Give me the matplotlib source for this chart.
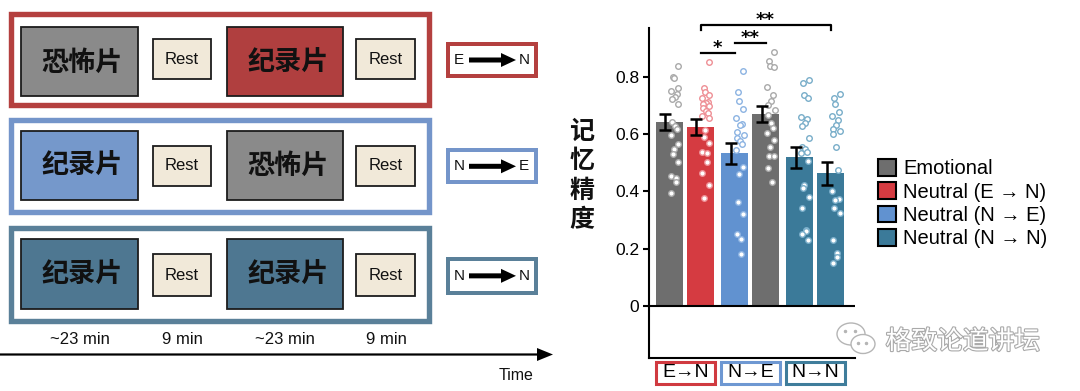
import numpy as np
import matplotlib
matplotlib.use('Agg')
import matplotlib.pyplot as plt
from matplotlib.patches import Rectangle, FancyArrow, Patch, Ellipse
import matplotlib.patheffects as pe

plt.rcParams['font.family'] = ['Liberation Sans', 'Noto Sans CJK SC', 'DejaVu Sans']

# ---------------- data ----------------
conditions = ['Emotional', 'Neutral (E → N)', 'Neutral (N → E)', 'Neutral (N → N)']
condition_colors = ['#6e6e6e', '#d53b41', '#6192d0', '#3b7a99']
dot_edge_colors = ['#a9a9a9', '#ee8f95', '#8cb3e2', '#78adc9']
groups = ['E→N', 'N→E', 'N→N']
group_colors = ['#d03a40', '#6e98d2', '#3f7d9b']
bar_condition = [0, 1, 2, 0, 3, 3]
bar_group = [0, 0, 1, 1, 2, 2]
bar_means = [0.642, 0.626, 0.533, 0.670, 0.519, 0.463]
bar_sems = [0.028, 0.027, 0.038, 0.028, 0.037, 0.041]

dots_emo_en = [0.838, 0.799, 0.797, 0.760, 0.751, 0.740, 0.731, 0.722, 0.707, 0.644, 0.629,
               0.618, 0.597, 0.565, 0.547, 0.532, 0.504, 0.455, 0.446, 0.433, 0.396]
dots_neu_en = [0.851, 0.760, 0.749, 0.737, 0.726, 0.714, 0.708, 0.706, 0.700, 0.691, 0.681,
               0.673, 0.664, 0.656, 0.615, 0.591, 0.568, 0.539, 0.533, 0.504, 0.463, 0.423, 0.376]
dots_neu_ne = [0.821, 0.749, 0.716, 0.688, 0.658, 0.636, 0.634, 0.607, 0.597, 0.586, 0.576,
               0.565, 0.545, 0.487, 0.462, 0.362, 0.321, 0.252, 0.233, 0.181]
dots_emo_ne = [0.889, 0.856, 0.838, 0.836, 0.766, 0.737, 0.717, 0.702, 0.685, 0.667, 0.638,
               0.621, 0.603, 0.580, 0.557, 0.525, 0.523, 0.483, 0.434]
dots_neu_nn1 = [0.790, 0.778, 0.737, 0.726, 0.661, 0.653, 0.638, 0.630, 0.586, 0.557, 0.548,
                0.539, 0.533, 0.507, 0.423, 0.411, 0.382, 0.341, 0.265, 0.262, 0.250, 0.231]
dots_neu_nn2 = [0.739, 0.728, 0.705, 0.679, 0.665, 0.650, 0.632, 0.618, 0.611, 0.600, 0.557,
                0.475, 0.403, 0.374, 0.372, 0.341, 0.324, 0.231, 0.184, 0.172, 0.151]
bar_dots = [dots_emo_en, dots_neu_en, dots_neu_ne, dots_emo_ne, dots_neu_nn1, dots_neu_nn2]

sig_pairs = [(1, 2), (2, 3), (1, 5)]
sig_labels = ['*', '**', '**']
sig_levels = [0.883, 0.918, 0.98]
sig_ticks = [False, False, True]

y_ticks = [0, 0.2, 0.4, 0.6, 0.8]
y_tick_labels = ['0', '0.2', '0.4', '0.6', '0.8']
y_label = '记忆精度'

# left schematic content
film_names = {'E': '恐怖片', 'N': '纪录片'}
sessions = [('E', 'N'), ('N', 'E'), ('N', 'N')]
rest_label = 'Rest'
durations = ['~23 min', '9 min', '~23 min', '9 min']
time_label = 'Time'
watermark = '格致论道讲坛'

# ---------------- figure ----------------
W, H = 1080, 391
fig = plt.figure(figsize=(W / 100, H / 100), dpi=100)
fig.patch.set_facecolor('white')

ov = fig.add_axes([0, 0, 1, 1])
ov.set_xlim(0, W)
ov.set_ylim(H, 0)
ov.axis('off')

PX = 72 / 100  # points per pixel

frame_colors = ['#b4403f', '#7495ca', '#5a8099']
film_fill_N = ['#b03f3f', '#7598cb', '#4e7791']
film_fill_E = '#8a8a8a'
rest_fill = '#f1e9d9'

frame_y = [(11.7, 108), (117.3, 215), (225, 323.3)]
box_y = [(27.3, 95.5), (130.7, 200), (239.3, 309.3)]
rest_y = [(39.3, 79.3), (145.7, 185.7), (254.3, 296)]
tag_y = [(41.7, 78.3), (148.3, 184.3), (256.7, 295)]
frame_x = (7.9, 432)
film_x = [(21.4, 137.5), (226.8, 342.9)]
rest_x = [(152.5, 211.4), (356.4, 415.4)]
tag_x = (446.4, 538.2)

fw = 5.4
for r, (a, b) in enumerate(sessions):
    fy0, fy1 = frame_y[r]
    ov.add_patch(Rectangle((frame_x[0] + fw / 2, fy0 + fw / 2), frame_x[1] - frame_x[0] - fw,
                           fy1 - fy0 - fw, facecolor='white', edgecolor=frame_colors[r],
                           lw=fw * PX))
    for k, f in enumerate((a, b)):
        x0, x1 = film_x[k]
        y0, y1 = box_y[r]
        fill = film_fill_E if f == 'E' else film_fill_N[r]
        ov.add_patch(Rectangle((x0, y0), x1 - x0, y1 - y0, facecolor=fill,
                               edgecolor='#1c1c1c', lw=1.3))
        ov.text((x0 + x1) / 2 + 3, (y0 + y1) / 2 + 1, film_names[f], ha='center', va='center',
                fontsize=19.5, fontweight='bold', family=['Noto Sans CJK SC'], color='#111111')
        rx0, rx1 = rest_x[k]
        ry0, ry1 = rest_y[r]
        ov.add_patch(Rectangle((rx0, ry0), rx1 - rx0, ry1 - ry0, facecolor=rest_fill,
                               edgecolor='#1c1c1c', lw=1.3))
        ov.text((rx0 + rx1) / 2, (ry0 + ry1) / 2, rest_label, ha='center', va='center',
                fontsize=12, color='#111111')
    # tag box
    ty0, ty1 = tag_y[r]
    tw = 4.0
    ov.add_patch(Rectangle((tag_x[0] + tw / 2, ty0 + tw / 2), tag_x[1] - tag_x[0] - tw,
                           ty1 - ty0 - tw, facecolor='white', edgecolor=frame_colors[r],
                           lw=tw * PX))
    cy = (ty0 + ty1) / 2
    ov.text(459, cy, a, ha='center', va='center', fontsize=11, color='#111111')
    ov.text(524, cy, b, ha='center', va='center', fontsize=11, color='#111111')
    ov.add_patch(FancyArrow(469, cy, 47, 0, width=5, head_width=14, head_length=15,
                            length_includes_head=True, color='black', lw=0))

dur_x = [79.5, 182, 285, 386]
for x, t in zip(dur_x, durations):
    ov.text(x, 340, t, ha='center', va='center', fontsize=12, color='#111111')
ov.add_patch(FancyArrow(0, 354.5, 553, 0, width=2.2, head_width=13, head_length=16,
                        length_includes_head=True, color='black', lw=0))
ov.text(516, 375, time_label, ha='center', va='center', fontsize=11.5, color='#111111')

# y label of chart
ov.text(582, 176, '\n'.join(y_label), ha='center', va='center', fontsize=18,
        fontweight='bold', family=['Noto Sans CJK SC'], linespacing=1.28, color='#111111')

# watermark
ov.add_patch(Ellipse((851, 334), 28, 22, facecolor='white', edgecolor='#b5b5b5', lw=1.0))
ov.add_patch(Ellipse((863, 344), 24, 19, facecolor='white', edgecolor='#b5b5b5', lw=1.0))
for dx in (858, 866):
    ov.plot([dx], [343], 'o', ms=1.5, color='#b5b5b5')
for dx in (845, 855):
    ov.plot([dx], [331], 'o', ms=1.5, color='#b5b5b5')
wt = ov.text(963, 342, watermark, ha='center', va='center', fontsize=18.5,
             family=['Noto Sans CJK SC'], color='white')
wt.set_path_effects([pe.withStroke(linewidth=1.6, foreground='#a9a9a9')])

# ---------------- bar chart ----------------
unit = 31.0
x0px = 669.5
positions = [0, 1, 2.1, 3.1, 4.2, 5.2]
ax_left, ax_right, ax_top, ax_bot = 649, 855, 28, 358
ax = fig.add_axes([ax_left / W, (H - ax_bot) / H, (ax_right - ax_left) / W, (ax_bot - ax_top) / H])
ax.patch.set_alpha(0)
ax.set_xlim((ax_left - x0px) / unit, (ax_right - x0px) / unit)
ax.set_ylim(-0.1817, 0.9712)

bar_colors = [condition_colors[c] for c in bar_condition]
ax.bar(positions, bar_means, width=0.87, color=bar_colors, zorder=2)

for i, (p, ys) in enumerate(zip(positions, bar_dots)):
    idx = np.arange(len(ys))
    xs = p + 0.17 + 0.12 * np.sin(1.3 + 2.39 * idx)
    ax.plot(xs, ys, 'o', ms=4.0, mfc='white', mec=dot_edge_colors[bar_condition[i]],
            mew=1.0, zorder=3, clip_on=False)

ax.errorbar(np.array(positions) - 0.13, bar_means, yerr=bar_sems, fmt='none', ecolor='black',
            elinewidth=1.8, capsize=4.5, capthick=1.8, zorder=4)

ax.axhline(0, color='black', lw=1.5, zorder=5)

for (a, b), lab, lev, tk in zip(sig_pairs, sig_labels, sig_levels, sig_ticks):
    xa, xb = positions[a], positions[b]
    if tk:
        ax.plot([xa, xa, xb, xb], [lev - 0.015, lev, lev, lev - 0.015], color='black', lw=1.6,
                clip_on=False, zorder=5)
    else:
        ax.plot([xa, xb], [lev, lev], color='black', lw=1.6, clip_on=False, zorder=5)
    ax.text((xa + xb) / 2, lev - 0.012, lab, ha='center', va='bottom', fontsize=13,
            fontweight='bold', family=['DejaVu Sans'], clip_on=False)

for s in ('top', 'right'):
    ax.spines[s].set_visible(False)
for s in ('left', 'bottom'):
    ax.spines[s].set_linewidth(1.5)
ax.set_xticks([])
ax.set_yticks(y_ticks)
ax.set_yticklabels(y_tick_labels, fontsize=12.5)
ax.tick_params(axis='y', length=4, width=1.5, pad=3)

# group label boxes under bars
for g, name in enumerate(groups):
    members = [positions[i] for i in range(len(positions)) if bar_group[i] == g]
    gx0, gx1 = min(members) - 0.45, max(members) + 0.47
    ax.add_patch(Rectangle((gx0, -0.272), gx1 - gx0, 0.077, facecolor='white',
                           edgecolor=group_colors[g], lw=2.2, clip_on=False, zorder=6))
    ax.text((gx0 + gx1) / 2, -0.2335, name, ha='center', va='center', fontsize=14,
            clip_on=False, zorder=7)

handles = [Patch(facecolor=c, edgecolor='black', lw=1.5) for c in condition_colors]
fig.legend(handles, conditions, loc='upper left', bbox_to_anchor=(878 / W, 1 - 159 / H),
           frameon=False, fontsize=14.5, handlelength=0.9, handleheight=0.9,
           handletextpad=0.35, labelspacing=0.2, borderpad=0, borderaxespad=0)

fig.savefig('out.png', dpi=100, facecolor='white')
